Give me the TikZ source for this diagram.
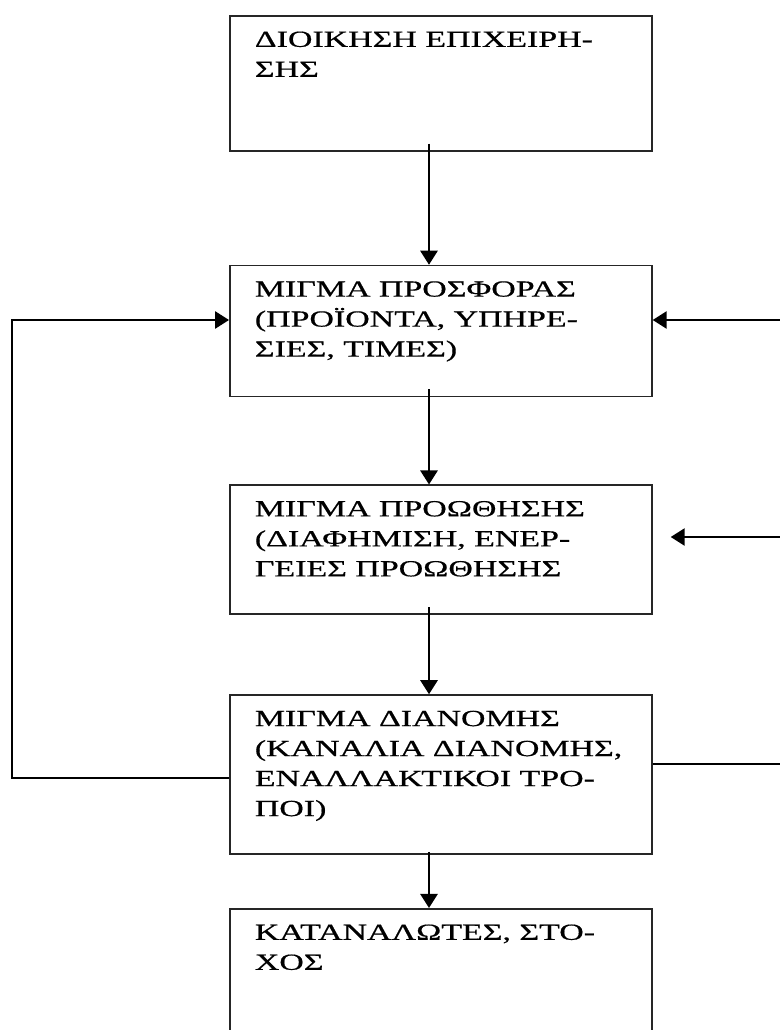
\documentclass[tikz,border=0pt]{standalone}
\usepackage{fontspec}
\setmainfont{Liberation Serif}[FakeStretch=1.47,FakeBold=0.6]
\usetikzlibrary{positioning, calc, arrows.meta}
\newcommand{\blocktext}[2]{\parbox[b][#1][t]{279pt}{\raggedright\strut #2}}

\begin{document}
\begin{tikzpicture}[x=0.75pt,y=-0.75pt,>={Triangle[length=10.5pt,width=13pt]},line width=1.3pt]
    \tikzstyle{every node}=[font=\fontsize{17.3pt}{22.5pt}\selectfont]
    \tikzstyle{block}=[draw,draw=black!85,inner xsep=18.75pt,inner ysep=7.5pt]
      \clip (0,0) rectangle (780,1030);
      \coordinate (axis) at (429,0);
      \coordinate (rowA) at (780,320);
      \coordinate (rowB) at (780,537);
      \coordinate (rowC) at (780,764);
      \coordinate (loopL) at (12,778);
      \node[block,anchor=north west] (mgmt) at (229,15) {\blocktext{86.25pt}{ΔΙΟΙΚΗΣΗ ΕΠΙΧΕΙΡΗ-\\ΣΗΣ}};
      \node[block,below=84.75pt of mgmt]  (offer)  {\blocktext{83.25pt}{ΜΙΓΜΑ ΠΡΟΣΦΟΡΑΣ\\(ΠΡΟΪΟΝΤΑ, ΥΠΗΡΕ-\\ΣΙΕΣ, ΤΙΜΕΣ)}};
      \node[block,below=65.25pt of offer] (promo)  {\blocktext{81.75pt}{ΜΙΓΜΑ ΠΡΟΩΘΗΣΗΣ\\(ΔΙΑΦΗΜΙΣΗ, ΕΝΕΡ-\\ΓΕΙΕΣ ΠΡΟΩΘΗΣΗΣ}};
      \node[block,below=59.25pt of promo]    (dist)   {\blocktext{104.25pt}{ΜΙΓΜΑ ΔΙΑΝΟΜΗΣ\\(ΚΑΝΑΛΙΑ ΔΙΑΝΟΜΗΣ,\\ΕΝΑΛΛΑΚΤΙΚΟΙ ΤΡΟ-\\ΠΟΙ)}};
      \node[block,below=39.75pt of dist]  (target) {\blocktext{105pt}{ΚΑΤΑΝΑΛΩΤΕΣ, ΣΤΟ-\\ΧΟΣ}};

      \draw[->] ($(mgmt.south -| axis)+(0,-8)$)  -- (offer.north -| axis);
      \draw[->] ($(offer.south -| axis)+(0,-8)$) -- (promo.north -| axis);
      \draw[->] ($(promo.south -| axis)+(0,-8)$) -- (dist.north -| axis);
      \draw[->] ($(dist.south -| axis)+(0,-3)$)  -- (target.north -| axis);

      % feedback loops
      \draw[->] (dist.west |- loopL) -- (loopL) |- (offer.west |- rowA);
      \draw[->] (rowA) -- (offer.east |- rowA);
      \draw[->] (rowB) -- ($(promo.east |- rowB)+(18,0)$);
      \draw (dist.east |- rowC) -- (rowC);
    \end{tikzpicture}
\end{document}
